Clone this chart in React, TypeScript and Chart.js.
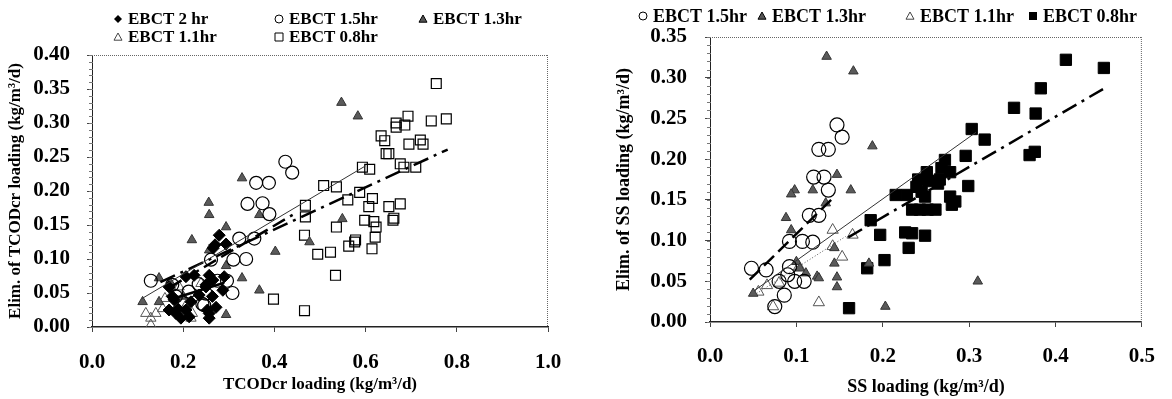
import React, { useEffect, useRef } from 'react';
import { Chart, registerables } from 'chart.js';

Chart.register(...registerables);

type P = [number, number];

// ---------- Left chart: TCODcr ----------
const tcodXTicks = [0, 0.2, 0.4, 0.6, 0.8, 1.0];
const tcodYTicks = [0, 0.05, 0.1, 0.15, 0.2, 0.25, 0.3, 0.35, 0.4];

const tcodEbct2hr: P[] = [
  [0.279, 0.135], [0.294, 0.122], [0.270, 0.121], [0.266, 0.116],
  [0.206, 0.074], [0.224, 0.076], [0.257, 0.076], [0.290, 0.074], [0.265, 0.069],
  [0.169, 0.059], [0.250, 0.059], [0.250, 0.062], [0.287, 0.054],
  [0.176, 0.045], [0.180, 0.040], [0.217, 0.037], [0.235, 0.047], [0.264, 0.045],
  [0.188, 0.027], [0.206, 0.025], [0.169, 0.025], [0.253, 0.025], [0.272, 0.029],
  [0.184, 0.020], [0.195, 0.013], [0.213, 0.015], [0.257, 0.013], [0.257, 0.020],
];

const tcodEbct15hr: P[] = [
  [0.424, 0.243], [0.439, 0.227], [0.360, 0.212], [0.388, 0.212], [0.341, 0.181],
  [0.374, 0.182], [0.389, 0.166], [0.323, 0.130], [0.356, 0.130], [0.261, 0.099],
  [0.310, 0.099], [0.338, 0.100], [0.129, 0.068], [0.176, 0.062], [0.212, 0.052],
  [0.275, 0.068], [0.296, 0.068], [0.308, 0.050], [0.250, 0.049], [0.242, 0.034],
  [0.234, 0.063], [0.184, 0.045], [0.246, 0.032],
];

const tcodEbct13hr: P[] = [
  [0.547, 0.330], [0.583, 0.310], [0.367, 0.165], [0.549, 0.159], [0.329, 0.219],
  [0.256, 0.183], [0.257, 0.165], [0.294, 0.147], [0.219, 0.128], [0.402, 0.111],
  [0.367, 0.054], [0.329, 0.072], [0.294, 0.018], [0.111, 0.037], [0.147, 0.037],
  [0.147, 0.072], [0.173, 0.059], [0.294, 0.090], [0.257, 0.113], [0.477, 0.125],
  [0.172, 0.065], [0.200, 0.045],
];

const tcodEbct11hr: P[] = [
  [0.129, 0.003], [0.118, 0.020], [0.140, 0.020], [0.129, 0.013], [0.155, 0.027],
  [0.217, 0.013], [0.220, 0.020], [0.209, 0.035], [0.191, 0.059], [0.239, 0.064],
  [0.160, 0.042],
];

const tcodEbct08hr: P[] = [
  [0.755, 0.358], [0.777, 0.306], [0.744, 0.303], [0.693, 0.310], [0.686, 0.297],
  [0.667, 0.300], [0.667, 0.294], [0.634, 0.281], [0.642, 0.274], [0.695, 0.269],
  [0.720, 0.275], [0.726, 0.269], [0.645, 0.255], [0.651, 0.255], [0.676, 0.240],
  [0.684, 0.235], [0.710, 0.235], [0.593, 0.235], [0.609, 0.232], [0.508, 0.208],
  [0.536, 0.206], [0.468, 0.179], [0.468, 0.162], [0.561, 0.187], [0.587, 0.198],
  [0.615, 0.189], [0.607, 0.177], [0.651, 0.177], [0.676, 0.181], [0.662, 0.160],
  [0.598, 0.157], [0.618, 0.155], [0.623, 0.147], [0.536, 0.147], [0.466, 0.135],
  [0.578, 0.128], [0.621, 0.132], [0.495, 0.107], [0.523, 0.110], [0.563, 0.119],
  [0.576, 0.125], [0.614, 0.115], [0.660, 0.157], [0.534, 0.076], [0.398, 0.041],
  [0.466, 0.024],
];

const tcodFitAll: P[] = [[0.11, 0.042], [0.60, 0.237]];
const tcodFit08hr: P[] = [[0.15, 0.066], [0.78, 0.261]];
const tcodFit15hr: P[] = [[0.17, 0.058], [0.44, 0.165]];
const tcodFit2hr: P[] = [[0.17, 0.040], [0.29, 0.065]];

// ---------- Right chart: SS ----------
const ssXTicks = [0, 0.1, 0.2, 0.3, 0.4, 0.5];
const ssYTicks = [0, 0.05, 0.1, 0.15, 0.2, 0.25, 0.3, 0.35];

const ssEbct15hr: P[] = [
  [0.147, 0.242], [0.153, 0.227], [0.126, 0.212], [0.137, 0.212], [0.120, 0.178],
  [0.132, 0.178], [0.137, 0.162], [0.115, 0.131], [0.126, 0.131], [0.092, 0.099],
  [0.107, 0.099], [0.119, 0.098], [0.048, 0.066], [0.065, 0.064], [0.092, 0.068],
  [0.098, 0.050], [0.109, 0.050], [0.086, 0.033], [0.075, 0.019], [0.080, 0.050],
  [0.090, 0.058],
];

const ssEbct13hr: P[] = [
  [0.135, 0.326], [0.166, 0.308], [0.188, 0.216], [0.147, 0.181], [0.119, 0.162],
  [0.163, 0.162], [0.098, 0.162], [0.094, 0.157], [0.134, 0.146], [0.088, 0.128],
  [0.094, 0.113], [0.144, 0.091], [0.144, 0.072], [0.100, 0.074], [0.111, 0.060],
  [0.124, 0.056], [0.147, 0.055], [0.147, 0.043], [0.050, 0.035], [0.184, 0.072],
  [0.203, 0.019], [0.310, 0.050], [0.126, 0.054], [0.104, 0.066],
];

const ssEbct11hr: P[] = [
  [0.142, 0.113], [0.165, 0.107], [0.153, 0.080], [0.142, 0.093], [0.126, 0.024],
  [0.073, 0.019], [0.056, 0.037], [0.080, 0.048], [0.103, 0.068], [0.066, 0.045],
];

const ssEbct08hr: P[] = [
  [0.412, 0.322], [0.456, 0.312], [0.383, 0.287], [0.352, 0.263], [0.377, 0.256],
  [0.303, 0.237], [0.318, 0.224], [0.370, 0.205], [0.376, 0.209], [0.296, 0.204],
  [0.272, 0.199], [0.268, 0.189], [0.278, 0.184], [0.251, 0.184], [0.241, 0.175],
  [0.253, 0.173], [0.266, 0.175], [0.299, 0.167], [0.239, 0.166], [0.249, 0.154],
  [0.215, 0.156], [0.228, 0.156], [0.278, 0.154], [0.284, 0.148], [0.280, 0.144],
  [0.234, 0.138], [0.243, 0.138], [0.261, 0.138], [0.252, 0.138], [0.186, 0.125],
  [0.197, 0.107], [0.226, 0.110], [0.234, 0.109], [0.249, 0.106], [0.230, 0.091],
  [0.202, 0.076], [0.182, 0.066], [0.161, 0.017], [0.264, 0.170], [0.245, 0.160],
];

const ssFitAll: P[] = [[0.052, 0.039], [0.308, 0.233]];
const ssFit08hr: P[] = [[0.16, 0.104], [0.455, 0.286]];
const ssFit15hr: P[] = [[0.046, 0.052], [0.144, 0.154]];
const ssFit11hr: P[] = [[0.054, 0.035], [0.157, 0.105]];

// ---------- helpers ----------
const SERIF = '"Liberation Serif", "Times New Roman", Times, serif';
const pts = (a: P[]) => a.map(([x, y]) => ({ x, y }));

type MarkerKind = 'diamond' | 'circle' | 'triFill' | 'triOpen' | 'sqOpen' | 'sqFill';

function drawMarker(ctx: CanvasRenderingContext2D, kind: MarkerKind, x: number, y: number, s: number) {
  ctx.save();
  ctx.setLineDash([]);
  ctx.lineWidth = 1;
  ctx.strokeStyle = '#000';
  ctx.fillStyle = '#000';
  ctx.beginPath();
  if (kind === 'diamond') {
    ctx.moveTo(x, y - s); ctx.lineTo(x + s, y); ctx.lineTo(x, y + s); ctx.lineTo(x - s, y); ctx.closePath();
    ctx.fill();
  } else if (kind === 'circle') {
    ctx.arc(x, y, s, 0, Math.PI * 2);
    ctx.stroke();
  } else if (kind === 'triFill' || kind === 'triOpen') {
    ctx.moveTo(x, y - s); ctx.lineTo(x + s, y + s * 0.8); ctx.lineTo(x - s, y + s * 0.8); ctx.closePath();
    if (kind === 'triFill') { ctx.fillStyle = '#555'; ctx.fill(); ctx.stroke(); }
    else { ctx.strokeStyle = '#444'; ctx.stroke(); }
  } else {
    ctx.rect(x - s, y - s, 2 * s, 2 * s);
    if (kind === 'sqFill') ctx.fill(); else ctx.stroke();
  }
  ctx.restore();
}

type LegendItem = { kind: MarkerKind; text: string; x: number; y: number };

function decorPlugin(legend: LegendItem[], legendFont: number, minorStep: number) {
  return {
    id: 'decor',
    afterDraw(chart: any) {
      const { ctx, chartArea } = chart;
      const { left, right, top, bottom } = chartArea;
      ctx.save();
      // dotted top & right frame
      ctx.strokeStyle = '#666';
      ctx.lineWidth = 1;
      ctx.setLineDash([1, 1]);
      ctx.beginPath();
      ctx.moveTo(left, top + 0.5); ctx.lineTo(right, top + 0.5);
      ctx.moveTo(right - 0.5, top); ctx.lineTo(right - 0.5, bottom);
      ctx.stroke();
      // minor y ticks
      ctx.setLineDash([]);
      ctx.strokeStyle = '#777';
      const ys = chart.scales.y;
      ctx.beginPath();
      for (let v = ys.min; v <= ys.max + 1e-9; v += minorStep) {
        const py = Math.round(ys.getPixelForValue(v)) + 0.5;
        ctx.moveTo(left - 3, py); ctx.lineTo(left + 1, py);
      }
      ctx.stroke();
      // legend
      ctx.font = `bold ${legendFont}px ${SERIF}`;
      ctx.fillStyle = '#000';
      ctx.textBaseline = 'middle';
      ctx.textAlign = 'left';
      legend.forEach((it) => {
        drawMarker(ctx, it.kind, it.x, it.y, 4);
        ctx.fillText(it.text, it.x + 10, it.y + 1);
      });
      ctx.restore();
    },
  };
}

function scatterSet(label: string, data: P[], style: string, radius: number, bg: string, border: string, bw = 1) {
  return {
    label, data: pts(data), pointStyle: style, pointRadius: radius, pointHoverRadius: radius,
    backgroundColor: bg, borderColor: border, borderWidth: bw, showLine: false,
  };
}

function fitSet(label: string, data: P[], width: number, dash: number[], color = '#000') {
  return {
    label, data: pts(data), showLine: true, pointRadius: 0, borderColor: color,
    borderWidth: width, borderDash: dash, fill: false,
  };
}

function axisOpts(opt: {
  min: number; max: number; ticks: number[]; decimals: number; tickFont: number; tickPad: number;
  title: string; titleFont: number; titlePad: any; size: number; horizontal: boolean; borderWidth: number;
}) {
  return {
    type: 'linear',
    min: opt.min,
    max: opt.max,
    afterBuildTicks: (s: any) => { s.ticks = opt.ticks.map((v) => ({ value: v })); },
    ticks: {
      callback: (v: any) => Number(v).toFixed(opt.decimals),
      font: { family: SERIF, size: opt.tickFont, weight: 'bold' },
      color: '#000',
      padding: opt.tickPad,
      autoSkip: false,
      maxRotation: 0,
    },
    grid: { display: true, drawOnChartArea: false, drawTicks: true, tickLength: 5, color: '#444' },
    border: { display: true, color: '#222', width: opt.borderWidth },
    title: {
      display: true, text: opt.title, color: '#000',
      font: { family: SERIF, size: opt.titleFont, weight: 'bold' },
      padding: opt.titlePad,
    },
    afterFit: (s: any) => { if (opt.horizontal) s.height = opt.size; else s.width = opt.size; },
  };
}

export default function App() {
  const leftRef = useRef<HTMLCanvasElement>(null);
  const rightRef = useRef<HTMLCanvasElement>(null);

  useEffect(() => {
    const left = new Chart(leftRef.current as HTMLCanvasElement, {
      type: 'scatter',
      data: {
        datasets: [
          fitSet('fit all', tcodFitAll, 1, [], '#333'),
          fitSet('fit 2 hr', tcodFit2hr, 2.5, []),
          fitSet('fit 1.5hr', tcodFit15hr, 2.5, [14, 6]),
          fitSet('fit 0.8hr', tcodFit08hr, 2.5, [16, 6, 3, 6]),
          scatterSet('EBCT 2 hr', tcodEbct2hr, 'rectRot', 6, '#000', '#000'),
          scatterSet('EBCT 1.5hr', tcodEbct15hr, 'circle', 6.5, 'rgba(255,255,255,0)', '#000', 1.2),
          scatterSet('EBCT 1.3hr', tcodEbct13hr, 'triangle', 5.5, '#5a5a5a', '#333'),
          scatterSet('EBCT 1.1hr', tcodEbct11hr, 'triangle', 6, 'rgba(255,255,255,0)', '#555'),
          scatterSet('EBCT 0.8hr', tcodEbct08hr, 'rect', 7, 'rgba(255,255,255,0)', '#000', 1.2),
        ],
      } as any,
      options: {
        responsive: false,
        animation: false,
        events: [],
        layout: { padding: { top: 55, right: 32, left: 0, bottom: 0 } },
        plugins: { legend: { display: false }, tooltip: { enabled: false } },
        scales: {
          x: axisOpts({
            min: 0, max: 1, ticks: tcodXTicks, decimals: 1, tickFont: 21, tickPad: 18,
            title: 'TCODcr loading (kg/m³/d)', titleFont: 17, titlePad: { top: 0, bottom: 4 },
            size: 72, horizontal: true, borderWidth: 1.5,
          }),
          y: axisOpts({
            min: 0, max: 0.4, ticks: tcodYTicks, decimals: 2, tickFont: 21, tickPad: 17,
            title: 'Elim. of TCODcr loading (kg/m³/d)', titleFont: 17, titlePad: { top: 5, bottom: 0 },
            size: 92, horizontal: false, borderWidth: 1,
          }),
        },
      } as any,
      plugins: [decorPlugin([
        { kind: 'diamond', text: 'EBCT 2 hr', x: 118, y: 19 },
        { kind: 'circle', text: 'EBCT 1.5hr', x: 279, y: 19 },
        { kind: 'triFill', text: 'EBCT 1.3hr', x: 423, y: 19 },
        { kind: 'triOpen', text: 'EBCT 1.1hr', x: 118, y: 37 },
        { kind: 'sqOpen', text: 'EBCT 0.8hr', x: 279, y: 37 },
      ], 17, 0.01)] as any,
    });

    const right = new Chart(rightRef.current as HTMLCanvasElement, {
      type: 'scatter',
      data: {
        datasets: [
          fitSet('fit all', ssFitAll, 1, [], '#333'),
          fitSet('fit 1.1hr', ssFit11hr, 1, [1, 2], '#555'),
          fitSet('fit 1.5hr', ssFit15hr, 2.5, [14, 6]),
          fitSet('fit 0.8hr', ssFit08hr, 2.5, [16, 6, 3, 6]),
          scatterSet('EBCT 1.5hr', ssEbct15hr, 'circle', 7, 'rgba(255,255,255,0)', '#000', 1.2),
          scatterSet('EBCT 1.3hr', ssEbct13hr, 'triangle', 5.5, '#5a5a5a', '#333'),
          scatterSet('EBCT 1.1hr', ssEbct11hr, 'triangle', 6.5, 'rgba(255,255,255,0)', '#555'),
          scatterSet('EBCT 0.8hr', ssEbct08hr, 'rect', 8, '#000', '#000'),
        ],
      } as any,
      options: {
        responsive: false,
        animation: false,
        events: [],
        layout: { padding: { top: 37, right: 27, left: 0, bottom: 0 } },
        plugins: { legend: { display: false }, tooltip: { enabled: false } },
        scales: {
          x: axisOpts({
            min: 0, max: 0.5, ticks: ssXTicks, decimals: 1, tickFont: 21, tickPad: 17,
            title: 'SS loading (kg/m³/d)', titleFont: 18, titlePad: { top: 0, bottom: 1 },
            size: 77, horizontal: true, borderWidth: 1.5,
          }),
          y: axisOpts({
            min: 0, max: 0.35, ticks: ssYTicks, decimals: 2, tickFont: 21, tickPad: 18,
            title: 'Elim. of SS loading (kg/m³/d)', titleFont: 18, titlePad: { top: 34, bottom: 0 },
            size: 130, horizontal: false, borderWidth: 1,
          }),
        },
      } as any,
      plugins: [decorPlugin([
        { kind: 'circle', text: 'EBCT 1.5hr', x: 63, y: 16 },
        { kind: 'triFill', text: 'EBCT 1.3hr', x: 182, y: 16 },
        { kind: 'triOpen', text: 'EBCT 1.1hr', x: 330, y: 16 },
        { kind: 'sqFill', text: 'EBCT 0.8hr', x: 453, y: 16 },
      ], 18, 0.01)] as any,
    });

    return () => { left.destroy(); right.destroy(); };
  }, []);

  return (
    <div style={{ position: 'fixed', left: 0, top: 0, width: 1172, height: 399, background: '#fff', overflow: 'hidden' }}>
      <canvas ref={leftRef} width={580} height={399} style={{ position: 'absolute', left: 0, top: 0, width: 580, height: 399 }} />
      <canvas ref={rightRef} width={592} height={399} style={{ position: 'absolute', left: 580, top: 0, width: 592, height: 399 }} />
    </div>
  );
}
